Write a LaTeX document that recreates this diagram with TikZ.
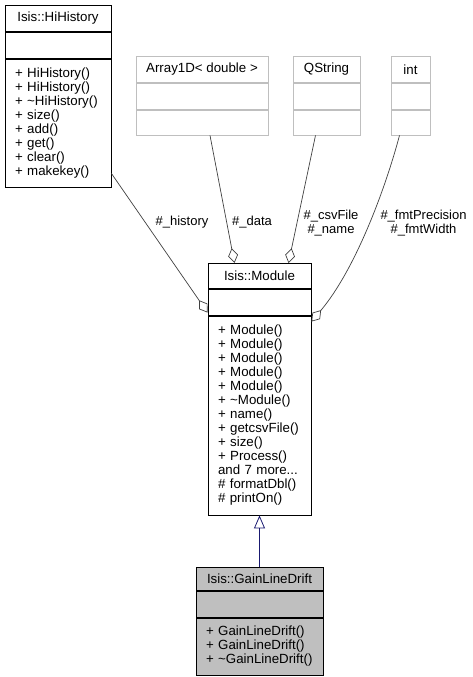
\documentclass[tikz,border=0pt]{standalone}
\usepackage{fontspec}
\setmainfont{Liberation Sans}
\usetikzlibrary{positioning,arrows.meta}

\definecolor{edgegray}{HTML}{404040}
\definecolor{boxgray}{HTML}{BFBFBF}
\definecolor{inhblue}{HTML}{191970}

\tikzset{
  part/.style={draw, line width=0.8pt, inner sep=0pt, anchor=north,
    font=\fontsize{13.3}{14}\selectfont},
  members/.style={part, align=left, inner xsep=10pt, inner ysep=0pt,
    execute at begin node={\hyphenpenalty=10000\relax}},
  ghost/.style={draw=boxgray},
  shaded/.style={fill=boxgray},
  agg/.style={draw=edgegray, line width=0.7pt,
    -{Diamond[open, length=15pt, width=10pt]}},
  inherit/.style={draw=inhblue, line width=0.8pt,
    -{Triangle[open, length=13pt, width=11pt]}},
  lbl/.style={align=center, inner sep=0pt}
}

\begin{document}
\begin{tikzpicture}[x=1pt, y=-1pt, font=\fontsize{13}{14.5}\selectfont]
\useasboundingbox (0,0) rectangle (473,677);

% Isis::HiHistory
\node[part, minimum width=106pt, minimum height=26pt] (hihT) at (58,5) {Isis::HiHistory};
\node[part, minimum width=106pt, minimum height=26pt, below=0pt of hihT] (hihA) {};
\node[members, text width=86pt, minimum height=128pt, below=0pt of hihA] (hihM)
  {+ HiHistory()\\+ HiHistory()\\+ \textasciitilde HiHistory()\\+ size()\\+ add()\\+ get()\\+ clear()\\+ makekey()};

% Array1D< double >
\node[part, ghost, minimum width=132pt, minimum height=26pt] (arrT) at (202,56) {Array1D< double >};
\node[part, ghost, minimum width=132pt, minimum height=26pt, below=0pt of arrT] (arrA) {};
\node[part, ghost, minimum width=132pt, minimum height=25pt, below=0pt of arrA] (arrM) {};

% QString
\node[part, ghost, minimum width=67pt, minimum height=26pt] (qstT) at (326.5,56) {QString};
\node[part, ghost, minimum width=67pt, minimum height=26pt, below=0pt of qstT] (qstA) {};
\node[part, ghost, minimum width=67pt, minimum height=25pt, below=0pt of qstA] (qstM) {};

% int
\node[part, ghost, minimum width=39pt, minimum height=26pt] (intT) at (410.5,56) {int};
\node[part, ghost, minimum width=39pt, minimum height=26pt, below=0pt of intT] (intA) {};
\node[part, ghost, minimum width=39pt, minimum height=25pt, below=0pt of intA] (intM) {};

% Isis::Module
\node[part, minimum width=103pt, minimum height=25pt] (modT) at (259.5,263) {Isis::Module};
\node[part, minimum width=103pt, minimum height=26pt, below=0pt of modT] (modA) {};
\node[members, text width=83pt, minimum height=199pt, below=0pt of modA] (modM)
  {+ Module()\\+ Module()\\+ Module()\\+ Module()\\+ Module()\\+ \textasciitilde Module()\\+ name()\\+ getcsvFile()\\+ size()\\+ Process()\\and 7 more...\\\# formatDbl()\\\# printOn()};

% Isis::GainLineDrift
\node[part, shaded, minimum width=127pt, minimum height=23pt] (gldT) at (259.5,567) {Isis::GainLineDrift};
\node[part, shaded, minimum width=127pt, minimum height=26pt, below=0pt of gldT] (gldA) {};
\node[members, shaded, text width=107pt, minimum height=57pt, below=0pt of gldA] (gldM)
  {+ GainLineDrift()\\+ GainLineDrift()\\+ \textasciitilde GainLineDrift()};

% aggregation edges
\draw[agg] ([yshift=14pt]hihM.south east) -- ([yshift=3pt]modA.south west);
\draw[agg] ([xshift=8pt]arrM.south) -- ([xshift=-25pt]modT.north);
\draw[agg] ([xshift=-11pt]qstM.south) -- ([xshift=29pt]modT.north);
\draw[agg] ([xshift=-11pt]intM.south) .. controls (385,190) and (355,270) .. ([yshift=-6pt]modM.north east);

% edge labels
\node[lbl] (lhist) at (182,222) {\#\_history};
\node[lbl] (ldata) at (252,222) {\#\_data};
\node[lbl] (lcsv) at (331,223) {\#\_csvFile\\\#\_name};
\node[lbl] (lfmt) at (423.5,223) {\#\_fmtPrecision\\\#\_fmtWidth};

% inheritance
\draw[inherit] (gldT.north) -- (modM.south);

\end{tikzpicture}
\end{document}
